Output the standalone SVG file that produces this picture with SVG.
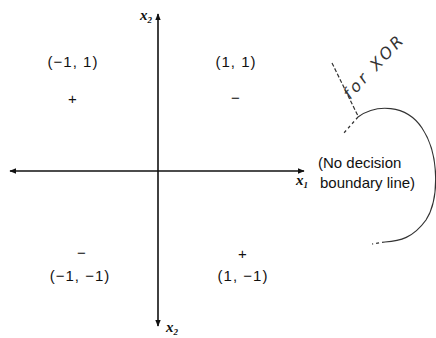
<svg xmlns="http://www.w3.org/2000/svg" width="436" height="338" viewBox="0 0 436 338">
<style>
.t{font-family:"Liberation Sans",Arial,sans-serif;font-size:15px;fill:#111;letter-spacing:1px}
.v{font-family:"Liberation Serif","Times New Roman",serif;font-style:italic;font-weight:bold;font-size:15px;fill:#111}
.ax{stroke:#111;stroke-width:1.6;fill:none}
.hw{stroke:#333;stroke-width:1.2;fill:none}
</style>
<defs>
<marker id="ah" viewBox="0 0 10 10" refX="9" refY="5" markerWidth="7" markerHeight="7" orient="auto" markerUnits="userSpaceOnUse">
<path d="M0,1 L10,5 L0,9 Z" fill="#111"/>
</marker>
</defs>
<rect width="436" height="338" fill="#fff"/>
<g id="connectors">
<line class="ax" x1="158" y1="171" x2="158" y2="14" marker-end="url(#ah)"/>
<line class="ax" x1="158" y1="171" x2="158" y2="326" marker-end="url(#ah)"/>
<line class="ax" x1="158" y1="171" x2="10" y2="171" marker-end="url(#ah)"/>
<line class="ax" x1="158" y1="171" x2="304" y2="171" marker-end="url(#ah)"/>
</g>
<g id="axis-labels">
<text class="v" x="140" y="20">x<tspan font-size="9" dy="3">2</tspan></text>
<text class="v" x="166" y="332">x<tspan font-size="9" dy="3">2</tspan></text>
<text class="v" x="296" y="185">x<tspan font-size="9" dy="3">1</tspan></text>
</g>
<g id="q1">
<text class="t" x="73" y="67" text-anchor="middle">(−1, 1)</text>
<text class="t" x="73" y="104" text-anchor="middle">+</text>
</g>
<g id="q2">
<text class="t" x="236" y="67" text-anchor="middle">(1, 1)</text>
<text class="t" x="236" y="103" text-anchor="middle">−</text>
</g>
<g id="q3">
<text class="t" x="82" y="258" text-anchor="middle" font-size="12">−</text>
<text class="t" x="80" y="281" text-anchor="middle">(−1, −1)</text>
</g>
<g id="q4">
<text class="t" x="243" y="259" text-anchor="middle" font-size="12">+</text>
<text class="t" x="243" y="281" text-anchor="middle">(1, −1)</text>
</g>
<g id="note">
<text class="t" x="318" y="168" style="letter-spacing:0">(No decision</text>
<text class="t" x="320" y="188" style="letter-spacing:0">boundary line)</text>
</g>
<g id="handwriting">
<path class="hw" d="M358 117 C376 104, 406 104, 422 128 C440 155, 439 200, 426 220 C413 238, 400 241, 385 242"/>
<path class="hw" d="M358 117 L343 134 M385 242 L372 244" stroke-dasharray="3,3"/>
<path class="hw" d="M332 63 L358 116" stroke-dasharray="4,2"/>
<text x="350" y="100" transform="rotate(-47 350 100)" style="font-family:'DejaVu Sans',sans-serif;font-style:italic;font-size:16px;fill:#333;letter-spacing:3px">for XOR</text>
</g>
</svg>
